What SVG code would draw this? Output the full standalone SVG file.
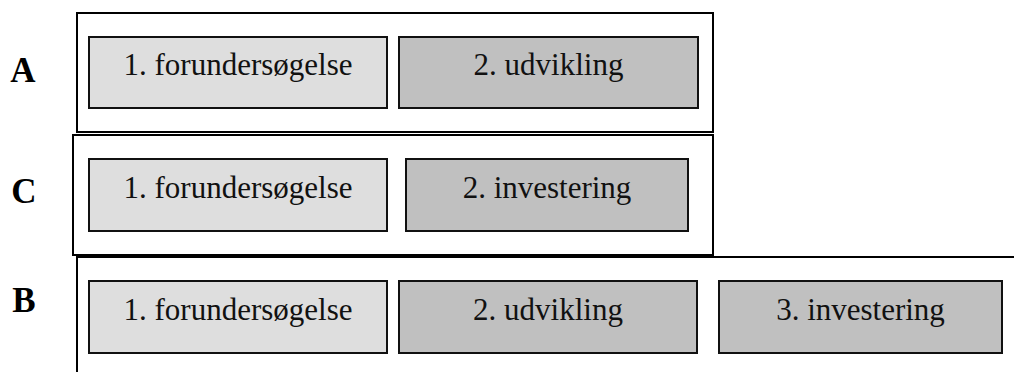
<svg xmlns="http://www.w3.org/2000/svg" width="1014" height="372" viewBox="0 0 1014 372">
<style>
.frame{fill:none;stroke:#000;stroke-width:2}
.step1{fill:#dedede;stroke:#111;stroke-width:2}
.step2{fill:#c0c0c0;stroke:#111;stroke-width:2}
.t{font-family:"Liberation Serif","Times New Roman",serif;font-size:31px;fill:#111;text-anchor:middle}
.lbl{font-family:"Liberation Serif","Times New Roman",serif;font-size:35px;font-weight:bold;fill:#000;text-anchor:middle}
</style>
<rect width="1014" height="372" fill="#fff"/>
<g id="rowA">
  <rect class="frame" x="77" y="13" width="636" height="119"/>
  <text class="lbl" x="23" y="82">A</text>
</g>
<g id="A1"><rect class="step1" x="89" y="37" width="298" height="71"/><text class="t" x="238" y="75">1. forundersøgelse</text></g>
<g id="A2"><rect class="step2" x="399" y="37" width="299" height="71"/><text class="t" x="548.5" y="75">2. udvikling</text></g>
<g id="rowC">
  <rect class="frame" x="73" y="135" width="640" height="120"/>
  <text class="lbl" x="24" y="203">C</text>
</g>
<g id="C1"><rect class="step1" x="89" y="159" width="298" height="72"/><text class="t" x="238" y="198">1. forundersøgelse</text></g>
<g id="C2"><rect class="step2" x="406" y="159" width="282" height="72"/><text class="t" x="547" y="198">2. investering</text></g>
<g id="rowB">
  <path class="frame" d="M77 372 V257 H1014"/>
  <text class="lbl" x="24" y="312">B</text>
</g>
<g id="B1"><rect class="step1" x="89" y="281" width="298" height="72"/><text class="t" x="238" y="320">1. forundersøgelse</text></g>
<g id="B2"><rect class="step2" x="399" y="281" width="298" height="72"/><text class="t" x="548" y="320">2. udvikling</text></g>
<g id="B3"><rect class="step2" x="719" y="281" width="283" height="72"/><text class="t" x="860.5" y="320">3. investering</text></g>
<g id="connectors"/>
</svg>
